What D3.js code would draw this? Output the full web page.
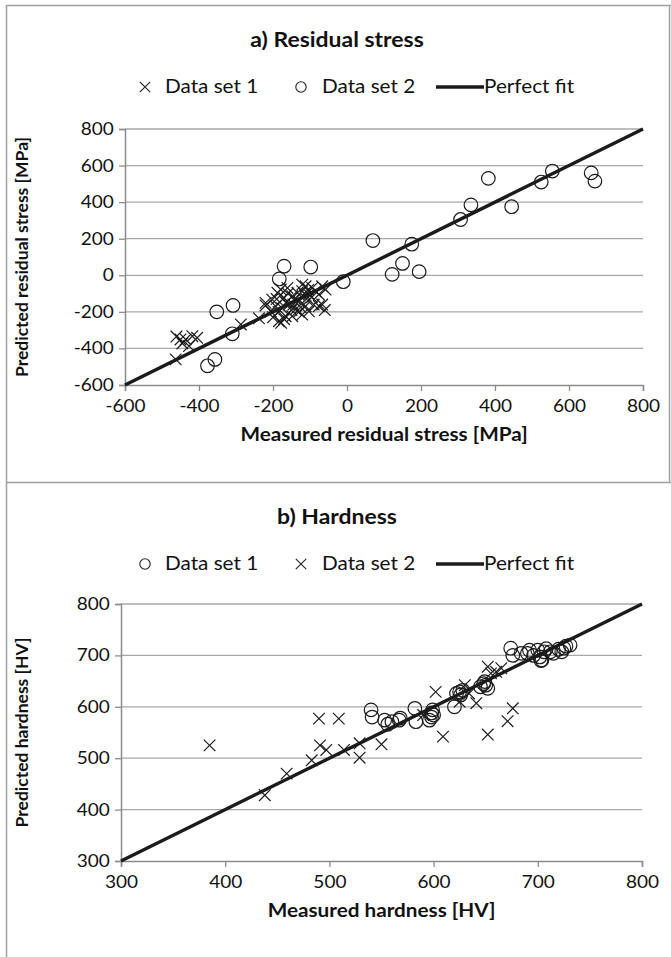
<!DOCTYPE html>
<html>
<head>
<meta charset="utf-8">
<script src="https://cdn.jsdelivr.net/npm/d3@7"></script>
<style>
  html, body { margin: 0; padding: 0; background: #fff; }
  svg { display: block; font-family: Lato, "Open Sans", sans-serif; }
</style>
</head>
<body>
<svg id="chart" width="671" height="957"></svg>
<script>
// ---- Panel a: residual stress [MPa] ----
const stressTicks = [-600, -400, -200, 0, 200, 400, 600, 800];
// Data set 1 (crosses): [measured, predicted]
const stressSet1 = [
  [-463,-460], [-461,-335], [-450,-351], [-436,-351], [-445,-373], [-427,-387], [-418,-333], [-405,-342],
  [-287,-269], [-238,-235], [-220,-165],
  [-220,-151], [-206,-197], [-202,-133], [-193,-169], [-188,-96], [-184,-251], [-179,-78], [-178,-260],
  [-170,-124], [-166,-224], [-161,-69], [-157,-160], [-148,-115], [-148,-224], [-139,-187], [-134,-96],
  [-130,-142], [-121,-87], [-121,-51], [-121,-215], [-112,-60], [-112,-169], [-103,-105], [-103,-197],
  [-94,-69], [-85,-87], [-76,-105], [-76,-169], [-67,-160], [-67,-60], [-58,-78],
  [-175,-180], [-165,-150], [-150,-190], [-140,-130], [-125,-175], [-110,-130], [-95,-120], [-185,-200],
  [-160,-100], [-130,-200], [-60,-190], [-90,-160], [-200,-230], [-170,-240], [-115,-100], [-105,-80],
  [-145,-160], [-190,-130]
];
// Data set 2 (circles)
const stressSet2 = [
  [-377,-495], [-357,-460], [-352,-200], [-310,-320], [-308,-165], [-183,-20], [-170,50], [-98,45],
  [-10,-35], [70,190], [122,5], [150,65], [175,170], [195,20], [307,305], [335,385], [382,530],
  [445,375], [525,510], [555,570], [660,560], [670,515]
];

// ---- Panel b: hardness [HV] ----
const hardTicks = [300, 400, 500, 600, 700, 800];
// Data set 1 (circles)
const hardSet1 = [
  [540,594], [541,580], [553,574], [556,566], [560,571], [567,574], [568,578], [582,597], [583,571],
  [596,574], [598,580], [598,588], [599,594], [600,584], [620,600], [622,626], [625,629], [626,623],
  [628,632], [645,639], [648,645], [649,649], [650,642], [652,636], [674,714], [676,700], [684,704],
  [690,704], [692,710], [696,700], [700,710], [702,697], [703,690], [704,691], [706,707], [708,713],
  [712,707], [715,704], [720,712], [723,707], [725,714], [727,718], [731,720]
];
// Data set 2 (crosses)
const hardSet2 = [
  [385,525], [438,428], [459,470], [483,496], [490,577], [491,525], [497,516], [509,577], [514,516],
  [529,501], [529,529], [550,527], [590,584], [602,629], [609,542], [625,610], [630,642], [634,626],
  [641,607], [652,546], [652,678], [655,665], [660,668], [665,675], [671,572], [676,597]
];

const ink = "#1b1b1b";
const gridColor = "#a8a8a8";
const axisColor = "#8c8c8c";
const frameColor = "#a0a0a0";
const textColor = "#111";
const SX = 1.12; // horizontal widening of the labels

const svg = d3.select("#chart");
svg.append("rect").attr("width", 671).attr("height", 957).attr("fill", "#fff");

// outer frame of the two stacked charts
const frame = svg.append("g").attr("stroke", frameColor).attr("stroke-width", 1.5).attr("fill", "none");
frame.append("line").attr("x1", 6.5).attr("x2", 6.5).attr("y1", 5).attr("y2", 957);
frame.append("line").attr("x1", 6).attr("x2", 671).attr("y1", 5.5).attr("y2", 5.5);
frame.append("line").attr("x1", 669.5).attr("x2", 669.5).attr("y1", 5).attr("y2", 482);
frame.append("line").attr("x1", 6).attr("x2", 671).attr("y1", 482.5).attr("y2", 482.5);

function crossPath(s) {
  return `M${-s},${-s}L${s},${s}M${-s},${s}L${s},${-s}`;
}

// horizontal label, widened around its anchor point
function label(g, x, y, txt, size, opts = {}) {
  return g.append("text")
    .attr("transform", `translate(${x},${y}) scale(${SX},1)`)
    .attr("text-anchor", opts.anchor || "start")
    .style("font-size", size + "px")
    .style("font-weight", opts.bold ? "bold" : "normal")
    .attr("fill", textColor)
    .text(txt);
}

function drawMarkers(g, data, x, y, kind) {
  const sel = g.append("g").selectAll("path").data(data).join("path")
    .attr("transform", d => `translate(${x(d[0])},${y(d[1])})`)
    .attr("fill", "none").attr("stroke", ink).attr("stroke-width", 1.2);
  if (kind === "cross") sel.attr("d", crossPath(5.8));
  else sel.attr("d", d3.symbol(d3.symbolCircle, Math.PI * 6.8 * 6.8)());
}

function drawPanel(cfg) {
  const g = svg.append("g");
  const x = d3.scaleLinear().domain(cfg.domain).range([cfg.left, cfg.right]);
  const y = d3.scaleLinear().domain(cfg.domain).range([cfg.bottom, cfg.top]);
  const fmt = d => String(d);

  // horizontal gridlines
  g.append("g").selectAll("line").data(cfg.ticks.slice(1)).join("line")
    .attr("x1", cfg.left).attr("x2", cfg.right)
    .attr("y1", d => y(d)).attr("y2", d => y(d))
    .attr("stroke", gridColor).attr("stroke-width", 1.3);

  // axes
  const yAxis = d3.axisLeft(y).tickValues(cfg.ticks).tickSize(6).tickPadding(4).tickFormat(fmt);
  const xAxis = d3.axisBottom(x).tickValues(cfg.ticks).tickSize(6).tickPadding(9).tickFormat(fmt);
  const ga = g.append("g").attr("transform", `translate(${cfg.left},0)`).call(yAxis);
  const gx = g.append("g").attr("transform", `translate(0,${cfg.bottom})`).call(xAxis);
  [ga, gx].forEach(a => {
    a.select(".domain").attr("stroke", axisColor).attr("stroke-width", 1.5);
    a.selectAll(".tick line").attr("stroke", axisColor).attr("stroke-width", 1.3);
    a.selectAll(".tick text").attr("fill", textColor)
      .style("font-size", "17px").style("font-family", "Lato, sans-serif")
      .attr("transform", `scale(${SX},1)`);
  });

  // series
  drawMarkers(g, cfg.set1, x, y, cfg.kind1);
  drawMarkers(g, cfg.set2, x, y, cfg.kind2);

  // perfect fit line y = x
  g.append("line")
    .attr("x1", x(cfg.domain[0])).attr("y1", y(cfg.domain[0]))
    .attr("x2", x(cfg.domain[1])).attr("y2", y(cfg.domain[1]))
    .attr("stroke", ink).attr("stroke-width", 3.4);

  // title
  label(g, 337, cfg.titleY, cfg.title, 20.5, { anchor: "middle", bold: true });

  // legend
  const ly = cfg.legendY;
  const leg = g.append("g");
  const items = [
    { kind: cfg.kind1, label: "Data set 1", mx: 145, tx: 165 },
    { kind: cfg.kind2, label: "Data set 2", mx: 301, tx: 322 },
  ];
  items.forEach(it => {
    const m = leg.append("path").attr("transform", `translate(${it.mx},${ly - 6})`)
      .attr("fill", "none").attr("stroke", "#222").attr("stroke-width", 1.1);
    if (it.kind === "cross") m.attr("d", crossPath(5.2));
    else m.attr("d", d3.symbol(d3.symbolCircle, Math.PI * 5.2 * 5.2)());
    label(leg, it.tx, ly, it.label, 18.5);
  });
  leg.append("line").attr("x1", 436).attr("x2", 484).attr("y1", ly - 6).attr("y2", ly - 6)
    .attr("stroke", ink).attr("stroke-width", 3.4);
  label(leg, 484, ly, "Perfect fit", 18.5);

  // axis titles
  label(g, (cfg.left + cfg.right) / 2, cfg.xTitleY, cfg.xTitle, 18.5, { anchor: "middle", bold: true });
  g.append("text")
    .attr("transform", `translate(28,${(cfg.top + cfg.bottom) / 2}) rotate(-90)`)
    .attr("text-anchor", "middle")
    .style("font-size", "17.5px").style("font-weight", "bold").attr("fill", textColor).text(cfg.yTitle);
}

drawPanel({
  domain: [-600, 800], ticks: stressTicks,
  left: 125, right: 643, top: 129, bottom: 385,
  set1: stressSet1, kind1: "cross", set2: stressSet2, kind2: "circle",
  title: "a) Residual stress", titleY: 47, legendY: 93, xTitleY: 441,
  xTitle: "Measured residual stress [MPa]", yTitle: "Predicted residual stress [MPa]"
});

drawPanel({
  domain: [300, 800], ticks: hardTicks,
  left: 121, right: 642, top: 604, bottom: 861,
  set1: hardSet1, kind1: "circle", set2: hardSet2, kind2: "cross",
  title: "b) Hardness", titleY: 524, legendY: 570, xTitleY: 917,
  xTitle: "Measured hardness [HV]", yTitle: "Predicted hardness [HV]"
});
</script>
</body>
</html>
